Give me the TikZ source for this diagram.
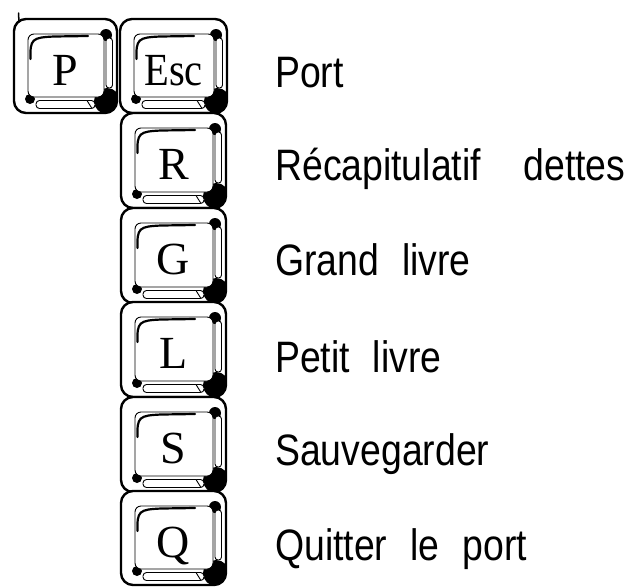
\documentclass[tikz,border=0pt]{standalone}
\usepackage{fontspec}
\setmainfont{Liberation Serif}
\newfontfamily\descfont{Liberation Sans}
\newcommand{\kbkey}[6]{%
\begin{scope}[shift={(#2,#3)}]
  \path[draw=black, line width=2.4, fill=white, rounded corners=12] (0,0) rectangle (#4,#5);
  \begin{scope}
    \clip[rounded corners=12] (0,0) rectangle (#4,#5);
    \fill (#4-10,#5-12) circle[radius=13];
    \fill (#4-11,16) circle[radius=6];
    \fill (16,#5-14) circle[radius=5];
  \end{scope}
  \draw[thinline, rounded corners=6] (14,15) rectangle (#4-13,#5-16);
  \draw[thinline, rounded corners=3] (#4-11,19) rectangle (#4-4.5,#5-25);
  \draw[thinline, rounded corners=3.5] (22,#5-12.5) rectangle (#4-22,#5-4.5);
  \draw[thinline] (#4-30,#5-12.5) -- (#4-25,#5-4.5);
  \draw[highlight] (16.5,40) .. controls (16,20) and (18,18.5) .. (40,17.5) -- (74,17);
  \node[keylabel] (#1) at (#4/2,66) {#6};
\end{scope}}
\begin{document}
\begin{tikzpicture}[x=1pt,y=-1pt,
  thinline/.style={line width=0.9, fill=white},
  highlight/.style={line width=2.2, line cap=round},
  keylabel/.style={anchor=base, inner sep=0pt, font=\fontsize{46}{46}\selectfont},
  desc/.style={anchor=base west, inner sep=0pt, font=\descfont\fontsize{44}{44}\selectfont}]
\useasboundingbox (0,0) rectangle (636,587);
\kbkey{kP}{14}{19}{103}{94}{P}
\kbkey{kEsc}{120}{19}{107}{94}{\scalebox{0.88}[1]{Esc}}
\kbkey{kR}{121}{113}{105}{95}{R}
\kbkey{kG}{121}{208}{105}{95}{G}
\kbkey{kL}{121}{302}{105}{95}{L}
\kbkey{kS}{121}{397}{105}{95}{S}
\kbkey{kQ}{121}{491}{105}{94}{Q}
\draw[line width=1.5, line cap=round] (19,22) -- (18.5,13);
\newcommand{\wsp}{\hspace{27pt}}
\node[desc] (tPort) at (275,87) {\scalebox{0.85}[1]{Port}};
\node[desc] (tR) at (275,180) {\scalebox{0.85}[1]{Récapitulatif\hspace{50pt}dettes}};
\node[desc] (tG) at (275,275) {\scalebox{0.85}[1]{Grand\wsp livre}};
\node[desc] (tL) at (275,372) {\scalebox{0.85}[1]{Petit\wsp livre}};
\node[desc] (tS) at (275,465) {\scalebox{0.85}[1]{Sauvegarder}};
\node[desc] (tQ) at (275,560) {\scalebox{0.85}[1]{Quitter\wsp le\wsp port}};
\end{tikzpicture}
\end{document}
